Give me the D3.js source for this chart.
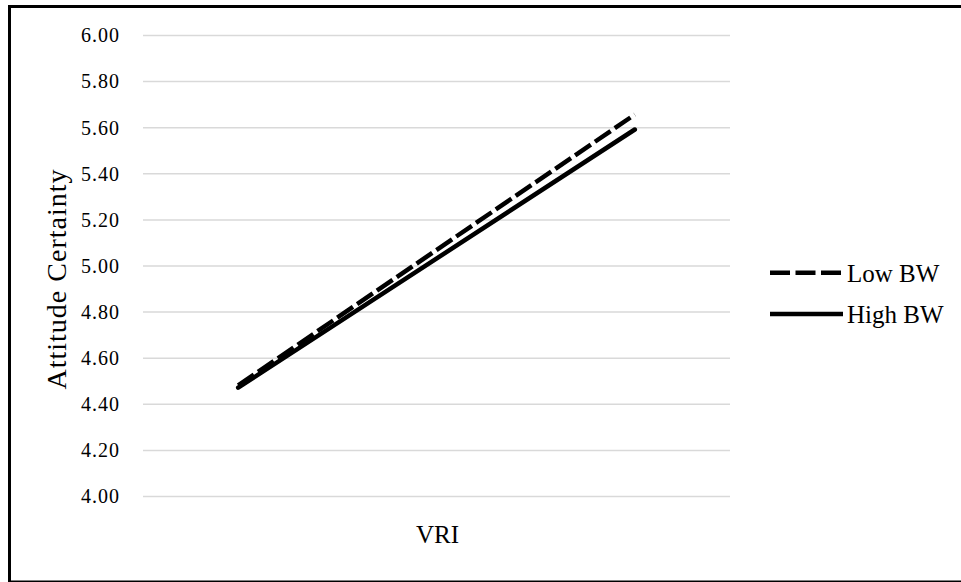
<!DOCTYPE html>
<html>
<head>
<meta charset="utf-8">
<script src="https://cdn.jsdelivr.net/npm/d3@7/dist/d3.min.js"></script>
<style>
  html, body { margin: 0; padding: 0; background: #fff; }
  svg { display: block; }
  text { font-family: "Liberation Serif", "Times New Roman", serif; fill: #000; }
</style>
</head>
<body>
<svg id="chart" width="961" height="582"></svg>
<script>
// ---- data ----
const categories = ["Low VRI", "High VRI"];
const seriesNames = ["Low BW", "High BW"];
const lowBW = [4.48, 5.655];
const highBW = [4.47, 5.59];
const yTicks = [4.00, 4.20, 4.40, 4.60, 4.80, 5.00, 5.20, 5.40, 5.60, 5.80, 6.00];
const yTitle = "Attitude Certainty";
const xTitle = "VRI";

const svg = d3.select("#chart");

// frame
svg.append("rect")
  .attr("x", 9.5).attr("y", 6.5)
  .attr("width", 980).attr("height", 575.5)
  .attr("fill", "none").attr("stroke", "#000").attr("stroke-width", 3);

const plot = { left: 143, right: 730, top: 35, bottom: 496 };

const x = d3.scalePoint().domain(categories)
  .range([plot.left, plot.right]).padding(0.24);
const y = d3.scaleLinear().domain([4, 6]).range([plot.bottom, plot.top]);

// gridlines + tick labels via axis
const yAxis = d3.axisLeft(y).tickValues(yTicks)
  .tickFormat(d3.format(".2f"))
  .tickSize(-(plot.right - plot.left)).tickPadding(23);
const gy = svg.append("g").attr("transform", `translate(${plot.left},0)`).call(yAxis);
gy.select(".domain").remove();
gy.selectAll(".tick line").attr("stroke", "#d9d9d9").attr("stroke-width", 1.5);
gy.selectAll(".tick text")
  .style("font-family", '"Liberation Serif", serif')
  .style("font-size", "20px").attr("fill", "#000")
  .attr("dy", "0.34em").attr("letter-spacing", "1px");

// lines
const line = d3.line().x((d, i) => x(categories[i])).y(d => y(d));
svg.append("path").datum(highBW)
  .attr("d", line).attr("fill", "none").attr("stroke", "#000")
  .attr("stroke-width", 4.5).attr("stroke-linecap", "round");
svg.append("path").datum(lowBW)
  .attr("d", line).attr("fill", "none").attr("stroke", "#000")
  .attr("stroke-width", 4.5).attr("stroke-dasharray", "19,5");

// axis titles
svg.append("text")
  .attr("transform", `translate(66,279) rotate(-90)`)
  .attr("text-anchor", "middle")
  .attr("letter-spacing", "1px")
  .style("font-size", "28px")
  .text(yTitle);

svg.append("text")
  .attr("x", 437.5).attr("y", 543)
  .attr("text-anchor", "middle")
  .style("font-size", "25px")
  .text(xTitle);

// legend
const legend = svg.append("g");
const legY = [272.7, 314];
seriesNames.forEach((name, i) => {
  legend.append("line")
    .attr("x1", 770).attr("x2", 843)
    .attr("y1", legY[i]).attr("y2", legY[i])
    .attr("stroke", "#000").attr("stroke-width", 4.5)
    .attr("stroke-dasharray", i === 0 ? "20,5.5" : null);
  legend.append("text")
    .attr("x", 847).attr("y", legY[i] + 9)
    .style("font-size", "25px")
    .text(name);
});
</script>
</body>
</html>
